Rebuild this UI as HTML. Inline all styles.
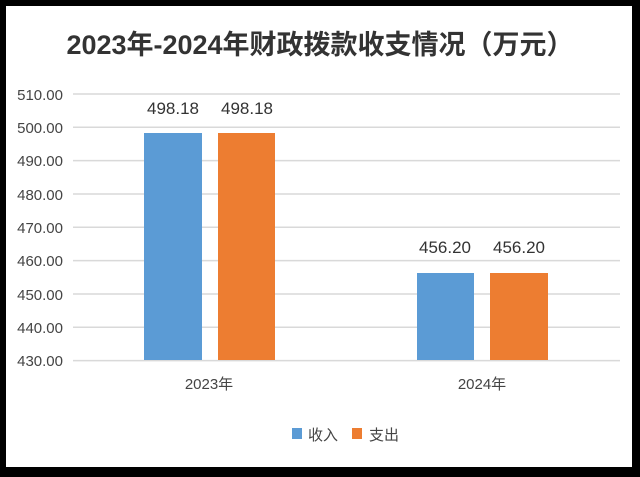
<!DOCTYPE html>
<html><head><meta charset="utf-8"><style>
html,body{margin:0;padding:0;background:#000;}
body{width:640px;height:477px;position:relative;overflow:hidden;font-family:"Liberation Sans","Noto Sans CJK SC",sans-serif;}
.card{position:absolute;left:6px;top:6px;width:626px;height:461px;background:#fff;}
.t{position:absolute;white-space:nowrap;}
</style></head><body>
<div class="card"></div>
<svg width="640" height="477" style="position:absolute;left:0;top:0" font-family="Liberation Sans, Noto Sans CJK SC, sans-serif">
<text x="320" y="54" text-anchor="middle" font-size="27" font-weight="bold" fill="#333">2023年-2024年财政拨款收支情况（万元）</text>
<g stroke="#d9d9d9" stroke-width="1.5">
<line x1="73" x2="620" y1="94" y2="94"/><line x1="73" x2="620" y1="127.3" y2="127.3"/>
<line x1="73" x2="620" y1="160.6" y2="160.6"/><line x1="73" x2="620" y1="194" y2="194"/>
<line x1="73" x2="620" y1="227.3" y2="227.3"/><line x1="73" x2="620" y1="260.6" y2="260.6"/>
<line x1="73" x2="620" y1="294" y2="294"/><line x1="73" x2="620" y1="327.3" y2="327.3"/>
<line x1="73" x2="620" y1="360.6" y2="360.6"/>
</g>
<g font-size="15" fill="#444" text-anchor="end">
<text x="63" y="100">510.00</text><text x="63" y="133">500.00</text><text x="63" y="166">490.00</text>
<text x="63" y="200">480.00</text><text x="63" y="233">470.00</text><text x="63" y="266">460.00</text>
<text x="63" y="300">450.00</text><text x="63" y="333">440.00</text><text x="63" y="366">430.00</text>
</g>
<rect x="144" y="133" width="58" height="227" fill="#5b9bd5"/>
<rect x="218" y="133" width="57" height="227" fill="#ed7d31"/>
<rect x="417" y="273" width="57" height="87" fill="#5b9bd5"/>
<rect x="490" y="273" width="58" height="87" fill="#ed7d31"/>
<g font-size="17" fill="#333" text-anchor="middle">
<text x="173" y="114">498.18</text><text x="247" y="114">498.18</text>
<text x="445" y="253">456.20</text><text x="519" y="253">456.20</text>
</g>
<g font-size="15" fill="#444" text-anchor="middle">
<text x="209" y="389">2023年</text><text x="482" y="389">2024年</text>
</g>
<rect x="292" y="428" width="10" height="11" fill="#5b9bd5"/>
<text x="308" y="440" font-size="15" fill="#444">收入</text>
<rect x="352" y="428" width="10" height="11" fill="#ed7d31"/>
<text x="369" y="440" font-size="15" fill="#444">支出</text>
</svg>
</body></html>
